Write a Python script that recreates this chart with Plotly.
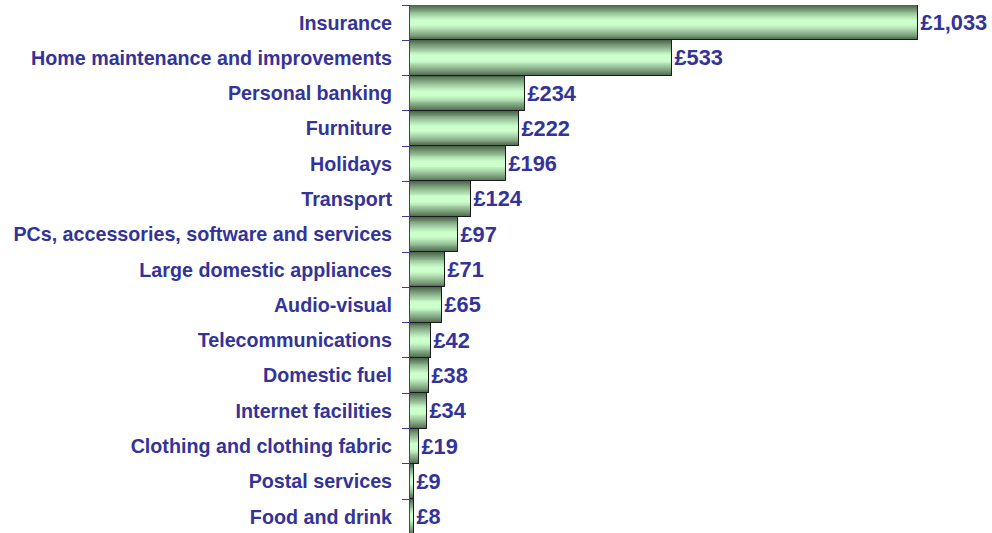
import plotly.graph_objects as go

categories = [
    "Insurance",
    "Home maintenance and improvements",
    "Personal banking",
    "Furniture",
    "Holidays",
    "Transport",
    "PCs, accessories, software and services",
    "Large domestic appliances",
    "Audio-visual",
    "Telecommunications",
    "Domestic fuel",
    "Internet facilities",
    "Clothing and clothing fabric",
    "Postal services",
    "Food and drink",
]
values = [1033, 533, 234, 222, 196, 124, 97, 71, 65, 42, 38, 34, 19, 9, 8]

TEXT_COLOR = "#333399"
FONT = "Liberation Sans, Arial, sans-serif"

fig = go.Figure()

# Simulated vertical gradient: overlaid bars of decreasing thickness
n_layers = 17
edge = (78, 104, 78)
center = (204, 255, 204)
for i in range(n_layers):
    t = i / (n_layers - 1)
    f = 1 - (1 - t) ** 1.15
    c = tuple(int(round(edge[k] + (center[k] - edge[k]) * f)) for k in range(3))
    w = 1.0 - 0.9 * (i / n_layers)
    fig.add_trace(go.Bar(
        x=values, y=categories, orientation="h",
        width=w,
        marker=dict(color=f"rgb{c}", line=dict(width=0)),
        hoverinfo="skip", showlegend=False,
    ))

# Outline + value labels
fig.add_trace(go.Bar(
    x=values, y=categories, orientation="h",
    width=1.0,
    marker=dict(color="rgba(0,0,0,0)", line=dict(color="#1a1a1a", width=1)),
    texttemplate="£%{x:,}",
    textposition="outside",
    constraintext="none",
    textfont=dict(family=FONT, size=21.8, color=TEXT_COLOR, weight="bold"),
    cliponaxis=False,
    showlegend=False,
))

fig.update_layout(
    width=992, height=533,
    margin=dict(l=410, r=0, t=5, b=0, autoexpand=False),
    barmode="overlay",
    bargap=0,
    plot_bgcolor="white",
    paper_bgcolor="white",
    font=dict(family=FONT, color=TEXT_COLOR),
)
fig.update_xaxes(visible=False, range=[0, 1183], showgrid=False,
                 zeroline=False, automargin=False)
fig.update_yaxes(
    type="category",
    categoryorder="array", categoryarray=categories,
    range=[14.46, -0.5],
    automargin=False,
    showline=True, linecolor="#3a3aa0", linewidth=1,
    ticks="outside", ticklen=7, tickcolor="#3a3aa0", tickwidth=1,
    tickson="boundaries",
    ticklabelstandoff=13,
    tickfont=dict(family=FONT, size=19.7, color=TEXT_COLOR, weight="bold"),
    showgrid=False, zeroline=False,
)

fig.write_html(
    "out.html",
    config={"displayModeBar": False},
    post_script="document.body.style.margin='0';document.body.style.overflow='hidden';",
)
